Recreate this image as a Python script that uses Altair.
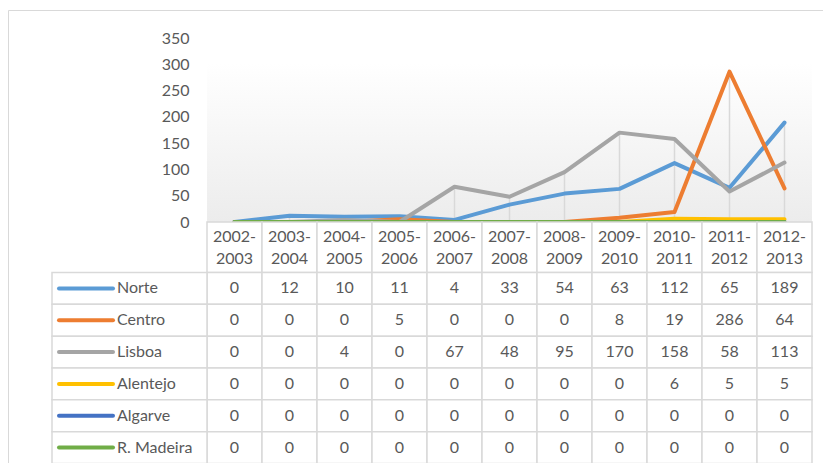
import altair as alt
import pandas as pd

categories = ["2002-2003", "2003-2004", "2004-2005", "2005-2006", "2006-2007", "2007-2008",
              "2008-2009", "2009-2010", "2010-2011", "2011-2012", "2012-2013"]
regions = ["Norte", "Centro", "Lisboa", "Alentejo", "Algarve", "R. Madeira"]
norte = [0, 12, 10, 11, 4, 33, 54, 63, 112, 65, 189]
centro = [0, 0, 0, 5, 0, 0, 0, 8, 19, 286, 64]
lisboa = [0, 0, 4, 0, 67, 48, 95, 170, 158, 58, 113]
alentejo = [0, 0, 0, 0, 0, 0, 0, 0, 6, 5, 5]
algarve = [0, 0, 0, 0, 0, 0, 0, 0, 0, 0, 0]
madeira = [0, 0, 0, 0, 0, 0, 0, 0, 0, 0, 0]
colors = ["#5b9bd5", "#ed7d31", "#a5a5a5", "#ffc000", "#4472c4", "#70ad47"]
y_ticks = [0, 50, 100, 150, 200, 250, 300, 350]

series = [norte, centro, lisboa, alentejo, algarve, madeira]
rows = []
for r, vals in zip(regions, series):
    for c, v in zip(categories, vals):
        rows.append({"cat": c, "region": r, "value": v})
df = pd.DataFrame(rows)
hdr = pd.DataFrame({"cat": categories, "label": [c.replace("-", "-\n") for c in categories]})
reg = pd.DataFrame({"region": regions})
one = pd.DataFrame({"k": [0]})

W, H = 605, 184
FONT = "Lato"
TXT = "#595959"
GRID = "#d9d9d9"
FS = 16

x_scale = alt.Scale(type="band", domain=categories, paddingInner=0, paddingOuter=0)
X = alt.X("cat:N", scale=x_scale, axis=None, sort=categories)
Xc = alt.X("cat:N", scale=x_scale, axis=None, sort=categories, bandPosition=0.5)
y_val = alt.Scale(domain=[0, 350], nice=False, zero=True)
row_scale = alt.Scale(type="band", domain=regions, range=[234.5, 425.5], paddingInner=0, paddingOuter=0)
Yr = alt.Y("region:N", scale=row_scale, axis=None, sort=regions)
Yrc = alt.Y("region:N", scale=row_scale, axis=None, sort=regions, bandPosition=0.5)
color_scale = alt.Scale(domain=regions, range=colors)

border = alt.Chart(one).mark_rect(fill="transparent", stroke=GRID, strokeWidth=1).encode(
    x=alt.value(-198.5), x2=alt.value(800), y=alt.value(-27.5), y2=alt.value(600))

grad = alt.Chart(one).mark_rect(
    color=alt.LinearGradient(gradient="linear",
                             stops=[alt.GradientStop(color="#ffffff", offset=0),
                                    alt.GradientStop(color="#ececec", offset=1)],
                             x1=0, x2=0, y1=0, y2=1)
).encode(x=alt.value(0), x2=alt.value(W), y=alt.value(25), y2=alt.value(H))

drops = alt.Chart(df).mark_rule(color=GRID, strokeWidth=1.5).encode(
    x=Xc, y=alt.Y("max(value):Q", scale=y_val, axis=None), y2=alt.datum(0))

lines = alt.Chart(df).mark_line(strokeWidth=4, strokeCap="round", strokeJoin="round").encode(
    x=Xc,
    y=alt.Y("value:Q", scale=y_val,
            axis=alt.Axis(values=y_ticks, domain=False, ticks=False, tickSize=0, grid=False,
                          labelPadding=18, labelFont=FONT, labelFontSize=FS, labelColor=TXT,
                          title=None)),
    color=alt.Color("region:N", scale=color_scale, legend=None, sort=regions),
)

hcells = alt.Chart(hdr).mark_rect(fill="white", stroke=GRID, strokeWidth=1.5).encode(
    x=X, y=alt.value(H), y2=alt.value(234.5))
htext = alt.Chart(hdr).mark_text(lineBreak="\n", lineHeight=22, font=FONT, fontSize=FS,
                                 color=TXT, baseline="middle").encode(
    x=Xc, y=alt.value(199), text="label:N")

cells = alt.Chart(df).mark_rect(fill="white", stroke=GRID, strokeWidth=1.5).encode(x=X, y=Yr)
ctext = alt.Chart(df).mark_text(font=FONT, fontSize=FS, color=TXT, baseline="middle").encode(
    x=Xc, y=Yrc, text="value:Q")

lcells = alt.Chart(reg).mark_rect(fill="white", stroke=GRID, strokeWidth=1.5).encode(
    x=alt.value(-155), x2=alt.value(0), y=Yr)
lkeys = alt.Chart(reg).mark_rule(strokeWidth=4, strokeCap="round").encode(
    x=alt.value(-148), x2=alt.value(-94), y=Yrc,
    color=alt.Color("region:N", scale=color_scale, legend=None, sort=regions))
ltext = alt.Chart(reg).mark_text(font=FONT, fontSize=FS, color=TXT, align="left",
                                 baseline="middle").encode(
    x=alt.value(-90), y=Yrc, text="region:N")

chart = alt.layer(border, grad, drops, lines, hcells, cells, lcells, htext, ctext, lkeys, ltext).resolve_scale(
    y="independent"
).properties(
    width=W, height=H,
    padding={"left": 199, "top": 30, "right": 11, "bottom": 241},
    autosize=alt.AutoSizeParams(type="none"),
).configure_view(strokeWidth=0)

chart.save("out.html", embed_options={"renderer": "svg", "actions": False})
